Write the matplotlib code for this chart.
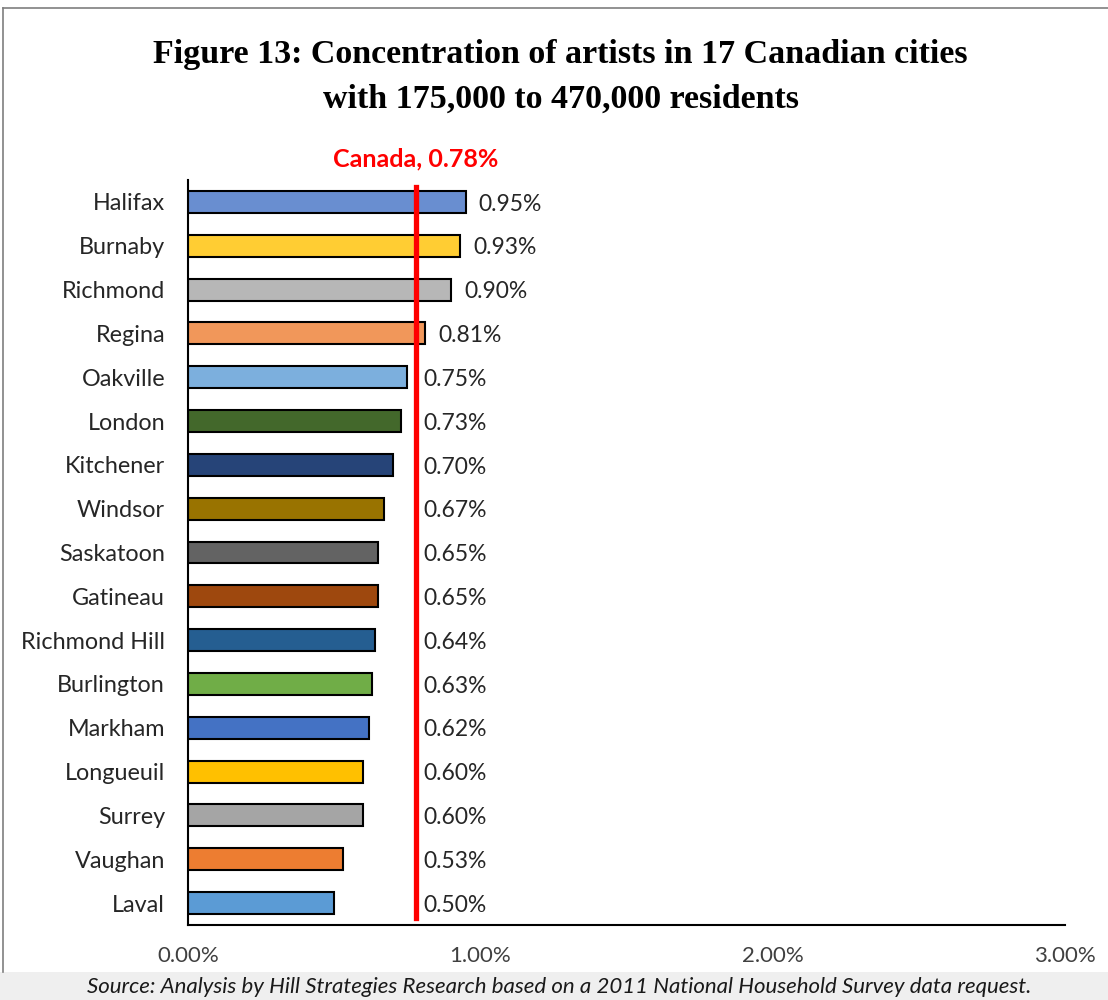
import matplotlib
matplotlib.use("Agg")
import matplotlib.pyplot as plt
from matplotlib.patches import Rectangle
from matplotlib.lines import Line2D
from matplotlib.ticker import FuncFormatter

cities = ["Halifax", "Burnaby", "Richmond", "Regina", "Oakville", "London",
          "Kitchener", "Windsor", "Saskatoon", "Gatineau", "Richmond Hill",
          "Burlington", "Markham", "Longueuil", "Surrey", "Vaughan", "Laval"]
values = [0.95, 0.93, 0.90, 0.81, 0.75, 0.73, 0.70, 0.67, 0.65, 0.65, 0.64,
          0.63, 0.62, 0.60, 0.60, 0.53, 0.50]
colors = ["#698ED0", "#FFCD33", "#B7B7B7", "#F1975A", "#7CAFDD", "#43682B",
          "#264478", "#997300", "#636363", "#9E480E", "#255E91", "#70AD47",
          "#4472C4", "#FFC000", "#A5A5A5", "#ED7D31", "#5B9BD5"]
canada = 0.78
xticks = [0, 1, 2, 3]

sans = ["Lato", "DejaVu Sans"]
txt = "#262626"

fig = plt.figure(figsize=(11.08, 10), dpi=100)
ax = fig.add_axes([188 / 1108, 75 / 1000, 877 / 1108, 745 / 1000])

y = list(range(len(cities)))
ax.barh(y, values, height=0.5, color=colors, edgecolor="black", linewidth=1.5, zorder=2)
ax.set_ylim(len(cities) - 0.5, -0.5)
ax.set_xlim(0, 3)

ax.axvline(canada, ymin=0.01, ymax=0.99, color="#FF0000", linewidth=3.8, zorder=3)
ax.text(canada, -0.72, "Canada, 0.78%", color="#FF0000", fontsize=18,
        fontweight="bold", family=sans, ha="center", va="bottom")

for yi, v in zip(y, values):
    xpos = v + 0.045 if v > canada else canada + 0.025
    ax.text(xpos, yi + 0.05, f"{v:.2f}%", fontsize=16.5, family=sans, color=txt,
            va="center", ha="left")

ax.set_yticks(y)
ax.set_yticklabels(cities, fontsize=16.8, family=sans, color=txt)
ax.set_xticks(xticks)
ax.xaxis.set_major_formatter(FuncFormatter(lambda v, p: f"{v:.2f}%"))
for lab in ax.get_xticklabels():
    lab.set_family(sans)
    lab.set_fontsize(16)
    lab.set_color("#404040")
ax.tick_params(axis="y", length=0, pad=16.5)
ax.tick_params(axis="x", length=0, pad=15)
for s in ["top", "right"]:
    ax.spines[s].set_visible(False)
for s in ["left", "bottom"]:
    ax.spines[s].set_linewidth(1.5)
    ax.spines[s].set_color("black")

fig.text(0.506, 0.946, "Figure 13: Concentration of artists in 17 Canadian cities",
         fontsize=24.5, fontweight="bold", family="Liberation Serif", ha="center", va="center")
fig.text(0.506, 0.901, "with 175,000 to 470,000 residents",
         fontsize=24.5, fontweight="bold", family="Liberation Serif", ha="center", va="center")

# footer band
fig.patches.append(Rectangle((0, 0), 1, 0.028, transform=fig.transFigure,
                             facecolor="#EFEFEF", edgecolor="none", zorder=0))
fig.text(0.505, 0.013, "Source: Analysis by Hill Strategies Research based on a 2011 "
         "National Household Survey data request.", fontsize=16, style="italic",
         family=sans, ha="center", va="center", color="#1a1a1a")

# frame lines
fig.lines.append(Line2D([0.003, 0.003], [0.028, 0.992], transform=fig.transFigure,
                        color="#7f7f7f", linewidth=1.2))
fig.lines.append(Line2D([0.003, 1], [0.992, 0.992], transform=fig.transFigure,
                        color="#7f7f7f", linewidth=1.2))

fig.savefig("out.png", dpi=100)
